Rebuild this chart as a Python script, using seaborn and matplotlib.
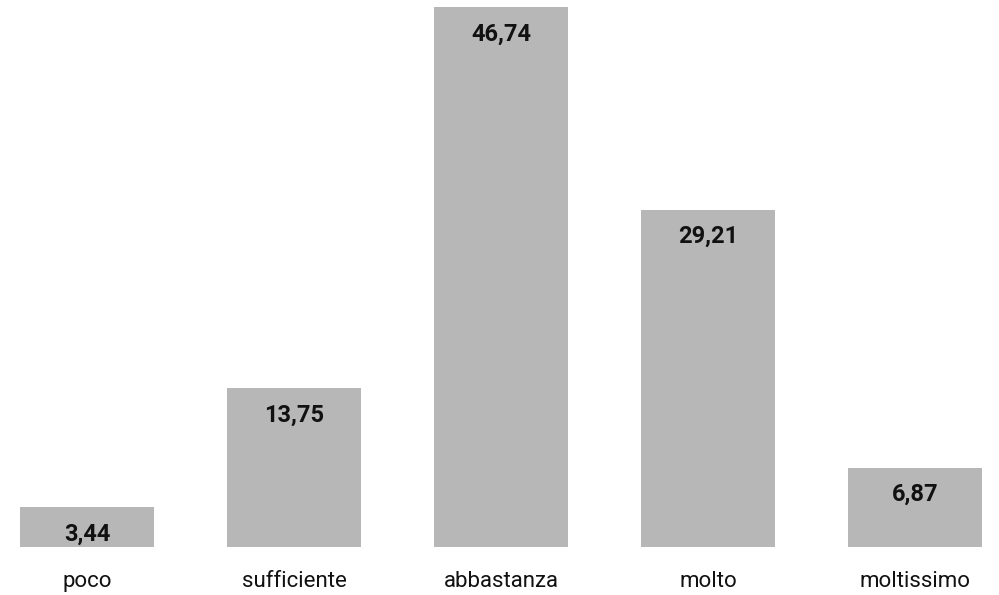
import matplotlib
matplotlib.use("Agg")
import matplotlib.pyplot as plt
import seaborn as sns
import pandas as pd

categories = ["poco", "sufficiente", "abbastanza", "molto", "moltissimo"]
values = [3.44, 13.75, 46.74, 29.21, 6.87]
value_labels = ["3,44", "13,75", "46,74", "29,21", "6,87"]

sns.set_theme(style="white")
plt.rcParams["font.family"] = ["Roboto", "DejaVu Sans"]

df = pd.DataFrame({"cat": categories, "val": values})

fig = plt.figure(figsize=(9.99, 5.95), dpi=100)
ax = fig.add_axes([0, 48 / 595, 1, 547 / 595])
sns.barplot(data=df, x="cat", y="val", color="#b7b7b7", saturation=1,
            width=0.647, ax=ax)
for p in ax.patches:
    p.set_edgecolor("none")

ax.set_xlim(-0.420, 4.406)
ax.set_ylim(0, 47.35)
for i, (v, lab) in enumerate(zip(values, value_labels)):
    ax.annotate(lab, (i, v), xytext=(0, -19.5), textcoords="offset points",
                ha="center", va="center", fontsize=17, fontweight="bold",
                color="#111111")

ax.set_xlabel("")
ax.set_ylabel("")
ax.set_yticks([])
ax.tick_params(axis="x", length=0, pad=17, labelsize=16, labelcolor="#111111")
sns.despine(ax=ax, left=True, bottom=True)
fig.savefig("out.png", dpi=100)
